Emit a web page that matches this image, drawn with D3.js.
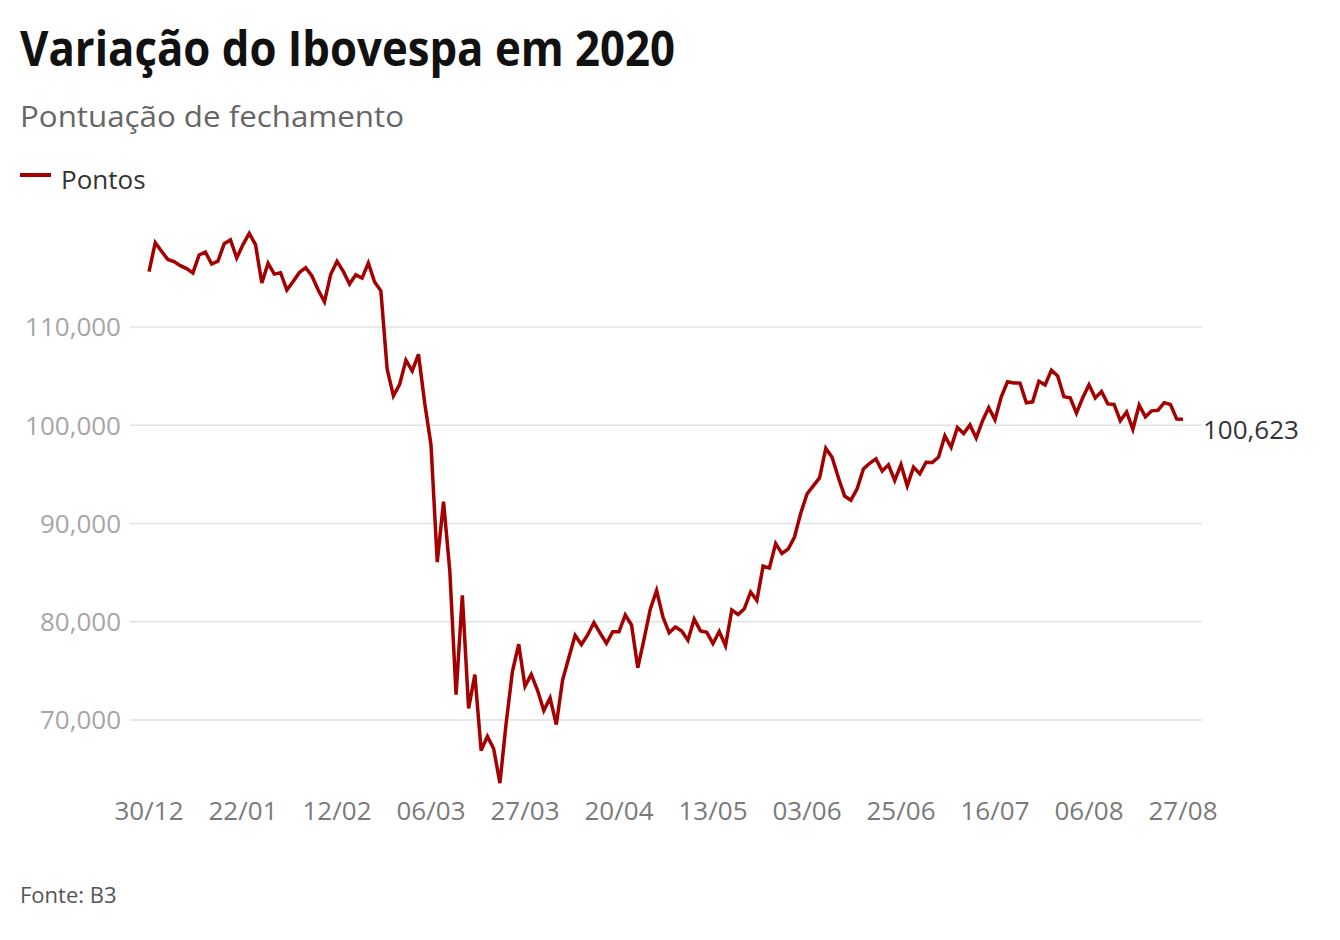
<!DOCTYPE html>
<html>
<head>
<meta charset="utf-8">
<script src="https://cdn.jsdelivr.net/npm/d3@7"></script>
<style>
  body { margin: 0; background: #fff; }
  svg { display: block; font-family: "Open Sans", sans-serif; }
</style>
</head>
<body>
<div id="chart"></div>
<script>
////////////////////////////// DATA ////////////////////////////////////

// Trading days (dd/mm), 30/12/2019 to 27/08/2020
const dates = [
  "30/12", "02/01", "03/01", "06/01", "07/01", "08/01", "09/01", "10/01", "13/01", "14/01",
  "15/01", "16/01", "17/01", "20/01", "21/01", "22/01", "23/01", "24/01", "27/01", "28/01",
  "29/01", "30/01", "31/01", "03/02", "04/02", "05/02", "06/02", "07/02", "10/02", "11/02",
  "12/02", "13/02", "14/02", "17/02", "18/02", "19/02", "20/02", "21/02", "26/02", "27/02",
  "28/02", "02/03", "03/03", "04/03", "05/03", "06/03", "09/03", "10/03", "11/03", "12/03",
  "13/03", "16/03", "17/03", "18/03", "19/03", "20/03", "23/03", "24/03", "25/03", "26/03",
  "27/03", "30/03", "31/03", "01/04", "02/04", "03/04", "06/04", "07/04", "08/04", "09/04",
  "13/04", "14/04", "15/04", "16/04", "17/04", "20/04", "22/04", "23/04", "24/04", "27/04",
  "28/04", "29/04", "30/04", "04/05", "05/05", "06/05", "07/05", "08/05", "11/05", "12/05",
  "13/05", "14/05", "15/05", "18/05", "19/05", "20/05", "21/05", "22/05", "25/05", "26/05",
  "27/05", "28/05", "29/05", "01/06", "02/06", "03/06", "04/06", "05/06", "08/06", "09/06",
  "10/06", "12/06", "15/06", "16/06", "17/06", "18/06", "19/06", "22/06", "23/06", "24/06",
  "25/06", "26/06", "29/06", "30/06", "01/07", "02/07", "03/07", "06/07", "07/07", "08/07",
  "09/07", "10/07", "13/07", "14/07", "15/07", "16/07", "17/07", "20/07", "21/07", "22/07",
  "23/07", "24/07", "27/07", "28/07", "29/07", "30/07", "31/07", "03/08", "04/08", "05/08",
  "06/08", "07/08", "10/08", "11/08", "12/08", "13/08", "14/08", "17/08", "18/08", "19/08",
  "20/08", "21/08", "24/08", "25/08", "26/08", "27/08"
];

// Closing points
const pontos = [
  115645, 118573, 117707, 116878, 116662, 116247, 115947, 115503, 117325, 117632,
  116414, 116702, 118478, 118862, 117026, 118391, 119528, 118376, 114482, 116479,
  115385, 115528, 113761, 114629, 115557, 116028, 115190, 113770, 112570, 115371,
  116674, 115662, 114381, 115309, 114977, 116518, 114586, 113681, 105718, 102984,
  104172, 106625, 105537, 107224, 102233, 97997, 86067, 92214, 85171, 72583,
  82678, 71168, 74617, 66895, 68332, 67069, 63570, 69729, 74956, 77710,
  73429, 74640, 73020, 70967, 72253, 69538, 74073, 76358, 78625, 77682,
  78654, 79918, 78831, 77812, 78990, 78973, 80687, 79673, 75331, 78239,
  81312, 83171, 80506, 78876, 79471, 79064, 78119, 80263, 79065, 78928,
  77772, 79011, 77556, 81194, 80742, 81319, 83027, 82173, 85663, 85469,
  87946, 86949, 87403, 88620, 91046, 93002, 93828, 94637, 97645, 96747,
  94686, 92795, 92376, 93531, 95547, 96125, 96572, 95336, 95975, 94377,
  95983, 93834, 95735, 95056, 96235, 96203, 96765, 98937, 97761, 99770,
  99160, 100032, 98697, 100440, 101791, 100553, 102888, 104426, 104310, 104290,
  102293, 102382, 104477, 104109, 105605, 105008, 102912, 102802, 101230, 102802,
  104126, 102776, 103444, 102174, 102118, 100461, 101353, 99595, 102065, 100853,
  101467, 101521, 102298, 102117, 100627, 100623
];

const xTickLabels = ["30/12", "22/01", "12/02", "06/03", "27/03", "20/04", "13/05", "03/06", "25/06", "16/07", "06/08", "27/08"];
const yTicks = [70000, 80000, 90000, 100000, 110000];

////////////////////////////// SET UP ////////////////////////////////////

const width = 1340;
const height = 940;

const svg = d3
  .select("#chart")
  .append("svg")
  .attr("width", width)
  .attr("height", height);

const data = pontos.map((v, i) => ({ i: i, date: dates[i], value: v }));

// x is the trading-day index
const x = d3.scaleLinear().domain([0, data.length - 1]).range([149, 1183]);
const y = d3.scaleLinear().domain([70000, 110000]).range([720, 327]);

////////////////////////////// TITLES ////////////////////////////////////

svg.append("text")
  .attr("x", 20)
  .attr("y", 66)
  .attr("textLength", 655)
  .attr("lengthAdjust", "spacingAndGlyphs")
  .style("font-size", "48px")
  .style("font-weight", 700)
  .style("fill", "#111")
  .text("Variação do Ibovespa em 2020");

svg.append("text")
  .attr("x", 20)
  .attr("y", 127)
  .attr("textLength", 384)
  .attr("lengthAdjust", "spacingAndGlyphs")
  .style("font-size", "30px")
  .style("fill", "#666")
  .text("Pontuação de fechamento");

// Legend
svg.append("line")
  .attr("x1", 20).attr("x2", 51)
  .attr("y1", 175).attr("y2", 175)
  .style("stroke", "#a50000")
  .style("stroke-width", 4);

svg.append("text")
  .attr("x", 61)
  .attr("y", 189)
  .style("font-size", "26px")
  .style("fill", "#333")
  .text("Pontos");

////////////////////////////// AXES ////////////////////////////////////

// Gridlines
svg.selectAll(".grid")
  .data(yTicks)
  .join("line")
  .attr("class", "grid")
  .attr("x1", 130)
  .attr("x2", 1202)
  .attr("y1", (d) => y(d))
  .attr("y2", (d) => y(d))
  .style("stroke", "#e2e2e2")
  .style("stroke-width", 1.5);

svg.selectAll(".ylabel")
  .data(yTicks)
  .join("text")
  .attr("class", "ylabel")
  .attr("x", 121)
  .attr("y", (d) => y(d))
  .attr("dy", "0.36em")
  .style("text-anchor", "end")
  .style("font-size", "26px")
  .style("fill", "#a6a6a6")
  .text((d) => d3.format(",")(d));

const xTicks = data.filter((d) => xTickLabels.includes(d.date) && d.i % 15 === 0);

svg.selectAll(".xlabel")
  .data(xTicks)
  .join("text")
  .attr("class", "xlabel")
  .attr("x", (d) => x(d.i))
  .attr("y", 820)
  .style("text-anchor", "middle")
  .style("font-size", "26px")
  .style("fill", "#7a7a7a")
  .text((d) => d.date);

////////////////////////////// LINE ////////////////////////////////////

const line = d3.line()
  .x((d) => x(d.i))
  .y((d) => y(d.value));

svg.append("path")
  .datum(data)
  .attr("d", line)
  .style("fill", "none")
  .style("stroke", "#a50000")
  .style("stroke-width", 3.5)
  .style("stroke-linejoin", "miter");

// Last value label
const last = data[data.length - 1];
svg.append("text")
  .attr("x", x(last.i) + 20)
  .attr("y", y(last.value) + 20)
  .style("font-size", "26px")
  .style("fill", "#333")
  .text(d3.format(",")(last.value));

// Source
svg.append("text")
  .attr("x", 20)
  .attr("y", 903)
  .style("font-size", "22px")
  .style("fill", "#555")
  .text("Fonte: B3");
</script>
</body>
</html>
